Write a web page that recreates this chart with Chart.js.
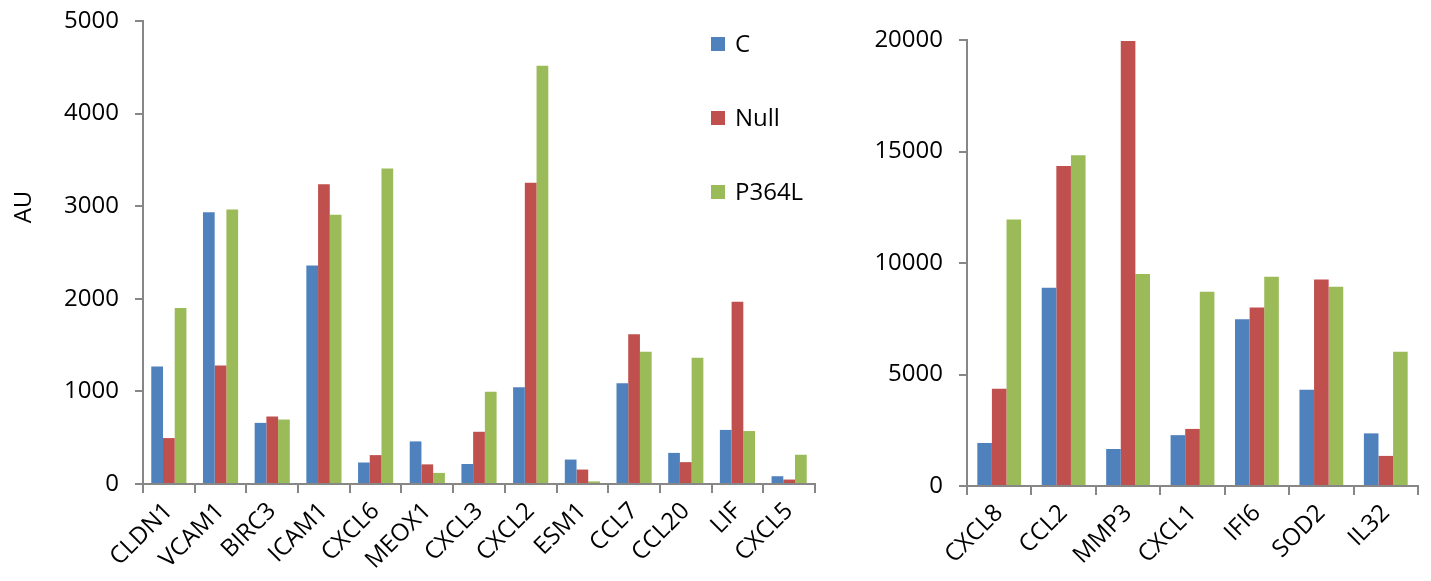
<!DOCTYPE html>
<html>
<head>
<meta charset="utf-8">
<script src="https://cdn.jsdelivr.net/npm/chart.js@4"></script>
<style>
  body { margin: 0; background: #fff; width: 1431px; height: 581px; overflow: hidden; position: relative; }
  .box { position: absolute; top: 0; height: 581px; }
  #left { left: 0; width: 840px; }
  #right { left: 850px; width: 581px; }
</style>
</head>
<body>
<div class="box" id="left"><canvas id="chartLeft"></canvas></div>
<div class="box" id="right"><canvas id="chartRight"></canvas></div>
<script>
const seriesNames = ['C', 'Null', 'P364L'];
const colors = ['#4F81BD', '#C0504D', '#9BBB59'];

// left panel
const genesLeft = ['CLDN1', 'VCAM1', 'BIRC3', 'ICAM1', 'CXCL6', 'MEOX1', 'CXCL3', 'CXCL2', 'ESM1', 'CCL7', 'CCL20', 'LIF', 'CXCL5'];
const cLeft     = [1268, 2936, 660, 2360, 232, 460, 216, 1044, 264, 1088, 336, 584, 84];
const nullLeft  = [496, 1280, 728, 3236, 312, 212, 564, 3252, 156, 1616, 236, 1968, 48];
const p364lLeft = [1900, 2964, 696, 2908, 3408, 120, 996, 4516, 28, 1428, 1364, 572, 316];

// right panel
const genesRight = ['CXCL8', 'CCL2', 'MMP3', 'CXCL1', 'IFI6', 'SOD2', 'IL32'];
const cRight     = [1930, 8890, 1660, 2280, 7480, 4320, 2360];
const nullRight  = [4360, 14350, 19950, 2560, 8010, 9260, 1350];
const p364lRight = [11950, 14830, 9510, 8710, 9380, 8930, 6020];

const FONT = "'Open Sans', sans-serif";
const axisGrey = '#878787';

function makeDatasets(a, b, c) {
  return [a, b, c].map((vals, i) => ({
    label: seriesNames[i],
    data: vals,
    backgroundColor: colors[i],
    categoryPercentage: 0.68,
    barPercentage: 1.0
  }));
}

// legend + y title drawn on the left panel
const extrasPlugin = {
  id: 'extras',
  afterDraw(chart, args, opts) {
    const ctx = chart.ctx;
    ctx.save();
    if (opts.yTitle) {
      ctx.translate(opts.yTitle.x, opts.yTitle.y);
      ctx.rotate(-Math.PI / 2);
      ctx.fillStyle = '#000';
      ctx.font = '24px ' + FONT;
      ctx.textAlign = 'center';
      ctx.textBaseline = 'middle';
      ctx.fillText(opts.yTitle.text, 0, 0);
      ctx.setTransform(1, 0, 0, 1, 0, 0);
    }
    if (opts.legend) {
      const lg = opts.legend;
      chart.data.datasets.forEach((ds, i) => {
        const y = lg.y + i * lg.gap;
        ctx.fillStyle = ds.backgroundColor;
        ctx.fillRect(lg.x, y - 7, 14, 14);
        ctx.fillStyle = '#000';
        ctx.font = '24px ' + FONT;
        ctx.textAlign = 'left';
        ctx.textBaseline = 'middle';
        ctx.fillText(ds.label, lg.x + 24, y + 1);
      });
    }
    ctx.restore();
  }
};

function makeOptions(max, step, yWidth, xHeight, pad, extras) {
  return {
    responsive: true,
    maintainAspectRatio: false,
    animation: false,
    layout: { padding: pad },
    plugins: {
      legend: { display: false },
      tooltip: { enabled: false },
      extras: extras
    },
    scales: {
      x: {
        grid: { drawOnChartArea: false, drawTicks: true, tickLength: 9, color: axisGrey, lineWidth: 2, offset: true },
        border: { color: axisGrey, width: 2 },
        ticks: { color: '#000', font: { family: FONT, size: 24 }, maxRotation: 45, minRotation: 45, padding: 4, autoSkip: false },
        afterFit: s => { s.height = xHeight; s.paddingLeft = 0; s.paddingRight = 0; }
      },
      y: {
        min: 0,
        max: max,
        grid: { drawOnChartArea: false, drawTicks: true, tickLength: 8, color: axisGrey, lineWidth: 2 },
        border: { color: axisGrey, width: 2 },
        ticks: { stepSize: step, color: '#000', font: { family: FONT, size: 24 }, padding: 16,
                 callback: v => String(v) },
        afterFit: s => { s.width = yWidth; s.paddingTop = 0; s.paddingBottom = 0; }
      }
    }
  };
}

const leftChart = new Chart(document.getElementById('chartLeft'), {
  type: 'bar',
  data: { labels: genesLeft, datasets: makeDatasets(cLeft, nullLeft, p364lLeft) },
  options: makeOptions(5000, 1000, 143, 97, { top: 21, right: 25, left: 0, bottom: 0 },
    { yTitle: { text: 'AU', x: 24, y: 207 }, legend: { x: 711, y: 44, gap: 74 } }),
  plugins: [extrasPlugin]
});

const rightChart = new Chart(document.getElementById('chartRight'), {
  type: 'bar',
  data: { labels: genesRight, datasets: makeDatasets(cRight, nullRight, p364lRight) },
  options: makeOptions(20000, 5000, 117, 95, { top: 40, right: 13, left: 0, bottom: 0 }, {}),
  plugins: [extrasPlugin]
});
</script>
</body>
</html>
